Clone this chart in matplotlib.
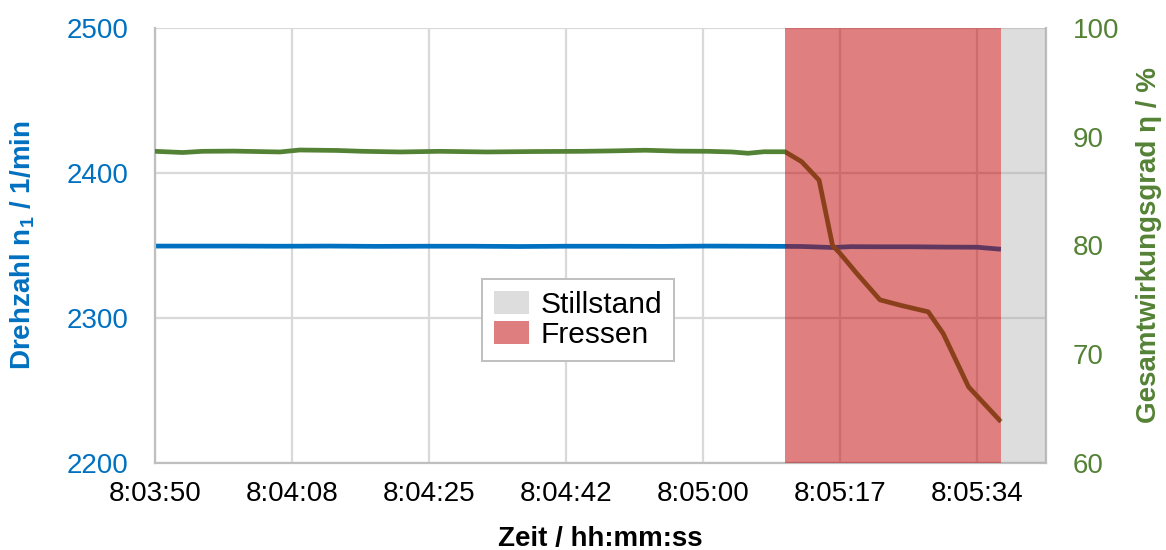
import numpy as np
import matplotlib
matplotlib.use("Agg")
import matplotlib.pyplot as plt
from matplotlib.patches import Patch

plt.rcParams["font.family"] = ["Liberation Sans", "DejaVu Sans"]
plt.rcParams["mathtext.fontset"] = "custom"
plt.rcParams["mathtext.rm"] = "Liberation Sans"
plt.rcParams["mathtext.bf"] = "Liberation Sans:bold"

# time in seconds after 8:03:50
t_n = [0, 4, 10, 16, 22, 28, 34, 40, 46, 52, 58, 64, 70, 76, 79.7, 82, 85.7,
       88, 92, 96, 100, 104, 107.0]
drehzahl = [2349.6, 2349.6, 2349.6, 2349.5, 2349.6, 2349.4, 2349.5, 2349.5,
            2349.3, 2349.5, 2349.5, 2349.4, 2349.6, 2349.5, 2349.4, 2349.3,
            2348.6, 2349.2, 2349.1, 2349.1, 2348.9, 2348.8, 2347.4]

t_eta = [0, 3.5, 6, 10, 15.8, 18.3, 23, 26.3, 31, 36, 42, 48, 54, 58, 62,
         66, 70, 73, 75, 77, 79.7, 81.8, 84.0, 85.7, 86.5, 88.8, 91.7, 94.3,
         97.8, 99.7, 102.9, 107.0]
eta = [88.66, 88.55, 88.66, 88.68, 88.6, 88.78, 88.74, 88.66, 88.6, 88.66,
       88.6, 88.64, 88.66, 88.7, 88.76, 88.68, 88.66, 88.6, 88.48, 88.62,
       88.62, 87.7, 86.0, 80.0, 79.4, 77.4, 75.0, 74.5, 73.9, 71.9, 67.0, 63.8]

fressen = (79.7, 107.0)
stillstand = (107.0, 112.7)
tick_labels = ["8:03:50", "8:04:08", "8:04:25", "8:04:42", "8:05:00",
               "8:05:17", "8:05:34"]

blue = "#0070C0"
green = "#548235"
fs = 20

fig = plt.figure(figsize=(11.66, 5.5), dpi=100)
ax = fig.add_axes([0.1329, 0.1582, 0.7642, 0.7909])
ax2 = ax.twinx()

ax.plot(t_n, drehzahl, color=blue, lw=3.4, solid_capstyle="butt", zorder=2)
ax2.plot(t_eta, eta, color=green, lw=3.4, solid_capstyle="butt", zorder=2)
ax2.axvspan(*fressen, color="#C00000", alpha=0.5, lw=0, zorder=3)
ax2.axvspan(*stillstand, color="#A6A6A6", alpha=0.38, lw=0, zorder=3)

ax.set_xlim(0, stillstand[1])
ax.set_ylim(2200, 2500)
ax2.set_ylim(60, 100)
ax.set_yticks([2200, 2300, 2400, 2500])
ax2.set_yticks([60, 70, 80, 90, 100])
ax.set_xticks([17.333 * i for i in range(len(tick_labels))])
ax.set_xticklabels(tick_labels)

ax.grid(True, color="#D9D9D9", lw=1.6)
ax.set_axisbelow(True)

ax.tick_params(axis="y", length=0, pad=19, labelsize=fs, labelcolor=blue)
ax.tick_params(axis="x", length=0, pad=13, labelsize=fs)
ax2.tick_params(axis="y", length=0, pad=19, labelsize=fs, labelcolor=green)

for a in (ax, ax2):
    for s in a.spines.values():
        s.set_visible(False)
for a, side in ((ax, "left"), (ax, "bottom"), (ax2, "right")):
    a.spines[side].set_visible(True)
    a.spines[side].set_color("#BFBFBF")
    a.spines[side].set_linewidth(1.6)

ax.set_ylabel(r"Drehzahl n$_\mathbf{1}$ / 1/min", color=blue, fontsize=fs,
              fontweight="bold")
ax.yaxis.set_label_coords(-0.132, 0.5)
ax2.set_ylabel("Gesamtwirkungsgrad η / %", color=green, fontsize=fs,
               fontweight="bold")
ax2.yaxis.set_label_coords(1.101, 0.5)
ax.set_xlabel("Zeit / hh:mm:ss", fontsize=fs, fontweight="bold")
ax.xaxis.set_label_coords(0.5, -0.144)

handles = [Patch(facecolor="#DDDDDD", edgecolor="none", label="Stillstand"),
           Patch(facecolor="#DE7E7E", edgecolor="none", label="Fressen")]
leg = ax2.legend(handles=handles, loc="center", bbox_to_anchor=(0.475, 0.329),
                 fontsize=21.5, frameon=True, fancybox=False, framealpha=1,
                 edgecolor="#BFBFBF", handlelength=1.15, handleheight=0.8,
                 handletextpad=0.4, borderpad=0.4, labelspacing=0.05,
                 borderaxespad=0)
leg.get_frame().set_linewidth(1.4)
leg.set_zorder(5)

fig.savefig("out.png", dpi=100)
